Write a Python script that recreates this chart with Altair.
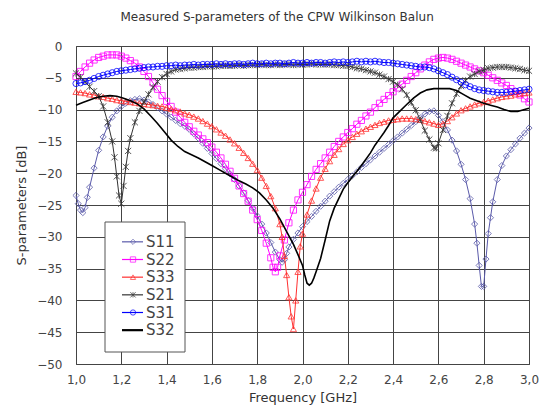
import altair as alt
import pandas as pd

# ---------------- data ----------------
s11_f = [1.00,1.01,1.02,1.03,1.04,1.05,1.06,1.08,1.10,1.12,1.14,1.16,1.18,1.20,1.22,1.24,1.26,1.28,1.30,1.32,1.34,1.36,1.38,1.40,1.42,1.44,1.46,1.48,1.50,1.52,1.54,1.56,1.58,1.60,1.62,1.64,1.66,1.68,1.70,1.72,1.74,1.76,1.78,1.80,1.82,1.84,1.86,1.88,1.90,1.91,1.92,1.93,1.94,1.96,1.98,2.00,2.02,2.04,2.06,2.08,2.10,2.12,2.14,2.16,2.18,2.20,2.22,2.24,2.26,2.28,2.30,2.32,2.34,2.36,2.38,2.40,2.42,2.44,2.46,2.48,2.50,2.52,2.54,2.56,2.58,2.60,2.62,2.64,2.66,2.68,2.70,2.72,2.74,2.76,2.77,2.78,2.79,2.80,2.81,2.82,2.83,2.84,2.86,2.88,2.90,2.92,2.94,2.96,2.98,3.00]
s11_db = [-23.5,-24.8,-25.8,-26.2,-25.4,-23.8,-22.2,-19.2,-16.4,-14.3,-12.6,-11.2,-10.2,-9.5,-9.0,-8.6,-8.4,-8.3,-8.5,-8.8,-9.2,-9.7,-10.2,-10.7,-11.2,-11.7,-12.2,-12.6,-13.1,-13.8,-14.5,-15.3,-16.1,-16.9,-17.7,-18.5,-19.3,-20.1,-21.0,-22.0,-23.1,-24.3,-25.5,-26.7,-28.0,-29.4,-30.9,-32.4,-33.6,-34.0,-33.6,-32.6,-31.6,-30.4,-29.4,-28.4,-27.6,-26.8,-26.0,-25.2,-24.4,-23.6,-22.9,-22.2,-21.6,-21.0,-20.4,-19.8,-19.1,-18.5,-17.9,-17.3,-16.7,-16.1,-15.5,-14.9,-14.3,-13.7,-13.1,-12.5,-11.9,-11.3,-10.7,-10.3,-10.2,-10.9,-11.9,-13.2,-14.8,-16.5,-18.6,-21.0,-24.0,-28.0,-31.0,-34.5,-37.8,-37.8,-33.5,-29.5,-27.0,-24.5,-21.0,-18.8,-17.3,-16.3,-15.4,-14.5,-13.7,-12.9]

s22_f = [1.00,1.02,1.04,1.06,1.08,1.10,1.12,1.14,1.16,1.18,1.20,1.22,1.24,1.26,1.28,1.30,1.32,1.34,1.36,1.38,1.40,1.42,1.44,1.46,1.48,1.50,1.52,1.54,1.56,1.58,1.60,1.62,1.64,1.66,1.68,1.70,1.72,1.74,1.76,1.78,1.80,1.82,1.84,1.86,1.87,1.88,1.89,1.90,1.92,1.94,1.96,1.98,2.00,2.02,2.04,2.06,2.08,2.10,2.12,2.14,2.16,2.18,2.20,2.22,2.24,2.26,2.28,2.30,2.32,2.34,2.36,2.38,2.40,2.42,2.44,2.46,2.48,2.50,2.52,2.54,2.56,2.58,2.60,2.62,2.64,2.66,2.68,2.70,2.72,2.74,2.76,2.78,2.80,2.82,2.84,2.86,2.88,2.90,2.92,2.94,2.96,2.98,3.00]
s22_db = [-4.8,-4.0,-3.3,-2.7,-2.2,-1.8,-1.6,-1.4,-1.4,-1.4,-1.6,-1.9,-2.3,-2.7,-3.3,-4.0,-4.8,-5.8,-6.8,-7.8,-8.7,-9.5,-10.4,-11.2,-12.0,-12.7,-13.4,-14.0,-14.6,-15.2,-15.9,-16.7,-17.6,-18.6,-19.7,-20.8,-22.0,-23.2,-24.4,-25.8,-27.3,-29.0,-31.0,-33.3,-34.8,-35.5,-34.8,-33.0,-30.5,-27.8,-25.8,-24.2,-23.0,-21.8,-20.5,-19.4,-18.5,-17.6,-16.7,-15.8,-15.0,-14.3,-13.6,-13.0,-12.3,-11.7,-11.0,-10.4,-9.7,-9.0,-8.4,-7.8,-7.2,-6.6,-6.0,-5.4,-4.8,-4.2,-3.6,-3.0,-2.5,-2.1,-1.9,-1.8,-1.9,-2.1,-2.4,-2.7,-3.0,-3.3,-3.6,-3.9,-4.2,-4.6,-5.0,-5.4,-5.8,-6.2,-6.7,-7.2,-7.7,-8.3,-8.8]

s33_f = [1.00,1.02,1.04,1.06,1.08,1.10,1.12,1.14,1.16,1.18,1.20,1.22,1.24,1.26,1.28,1.30,1.32,1.34,1.36,1.38,1.40,1.42,1.44,1.46,1.48,1.50,1.52,1.54,1.56,1.58,1.60,1.62,1.64,1.66,1.68,1.70,1.72,1.74,1.76,1.78,1.80,1.82,1.84,1.86,1.88,1.90,1.91,1.92,1.93,1.94,1.95,1.96,1.97,1.98,1.99,2.00,2.02,2.04,2.06,2.08,2.10,2.12,2.14,2.16,2.18,2.20,2.22,2.24,2.26,2.28,2.30,2.32,2.34,2.36,2.38,2.40,2.42,2.44,2.46,2.48,2.50,2.52,2.54,2.56,2.58,2.60,2.62,2.64,2.66,2.68,2.70,2.72,2.74,2.76,2.78,2.80,2.82,2.84,2.86,2.88,2.90,2.92,2.94,2.96,2.98,3.00]
s33_db = [-7.2,-7.3,-7.4,-7.6,-7.7,-7.9,-8.0,-8.2,-8.3,-8.5,-8.6,-8.7,-8.8,-8.9,-9.0,-9.1,-9.2,-9.3,-9.4,-9.5,-9.7,-9.9,-10.1,-10.3,-10.6,-10.8,-11.1,-11.4,-11.8,-12.2,-12.6,-13.1,-13.6,-14.1,-14.7,-15.3,-16.0,-16.8,-17.6,-18.5,-19.5,-20.7,-22.0,-23.6,-25.5,-28.0,-30.0,-33.0,-36.0,-39.5,-42.5,-44.5,-40.0,-35.5,-31.5,-29.5,-26.5,-24.3,-22.4,-20.7,-19.3,-18.1,-17.1,-16.2,-15.4,-14.8,-14.3,-13.8,-13.4,-13.0,-12.7,-12.4,-12.1,-11.9,-11.7,-11.6,-11.5,-11.4,-11.4,-11.4,-11.5,-11.6,-11.8,-12.0,-12.2,-12.4,-12.2,-11.8,-11.2,-10.6,-10.1,-9.8,-9.5,-9.2,-9.0,-8.8,-8.6,-8.4,-8.2,-8.0,-7.9,-7.8,-7.6,-7.5,-7.4,-7.3]

s21_f = [1.00,1.02,1.04,1.06,1.08,1.10,1.12,1.14,1.16,1.17,1.18,1.19,1.20,1.21,1.22,1.23,1.24,1.26,1.28,1.30,1.32,1.34,1.36,1.38,1.40,1.42,1.44,1.46,1.48,1.50,1.52,1.54,1.56,1.58,1.60,1.62,1.64,1.66,1.68,1.70,1.72,1.74,1.76,1.78,1.80,1.82,1.84,1.86,1.88,1.90,1.92,1.94,1.96,1.98,2.00,2.02,2.04,2.06,2.08,2.10,2.12,2.14,2.16,2.18,2.20,2.22,2.24,2.26,2.28,2.30,2.32,2.34,2.36,2.38,2.40,2.42,2.44,2.46,2.48,2.50,2.52,2.54,2.56,2.58,2.59,2.60,2.62,2.64,2.66,2.68,2.70,2.72,2.74,2.76,2.78,2.80,2.82,2.84,2.86,2.88,2.90,2.92,2.94,2.96,2.98,3.00]
s21_db = [-4.3,-4.9,-5.6,-6.4,-7.1,-7.9,-9.5,-12.0,-15.0,-17.5,-20.5,-23.5,-24.8,-22.0,-19.0,-16.5,-14.5,-12.0,-10.2,-8.8,-7.6,-6.5,-5.6,-4.9,-4.4,-4.0,-3.7,-3.6,-3.5,-3.4,-3.4,-3.3,-3.3,-3.2,-3.2,-3.2,-3.1,-3.1,-3.1,-3.1,-3.0,-3.1,-3.0,-3.0,-3.0,-2.9,-3.0,-3.0,-2.9,-3.0,-2.9,-2.9,-3.0,-2.9,-2.9,-2.9,-2.8,-2.9,-2.9,-2.9,-2.9,-3.0,-3.0,-3.1,-3.1,-3.3,-3.5,-3.6,-3.8,-4.0,-4.2,-4.5,-4.8,-5.2,-5.6,-6.1,-6.8,-7.7,-8.9,-10.1,-11.6,-13.3,-14.7,-16.0,-16.1,-15.3,-13.2,-11.0,-9.0,-7.5,-6.3,-5.4,-4.8,-4.4,-4.0,-3.8,-3.5,-3.4,-3.3,-3.3,-3.3,-3.4,-3.5,-3.6,-3.8,-3.9]

s31_f = [1.00,1.02,1.04,1.06,1.08,1.10,1.12,1.14,1.16,1.18,1.20,1.22,1.24,1.26,1.28,1.30,1.32,1.34,1.36,1.38,1.40,1.42,1.44,1.46,1.48,1.50,1.52,1.54,1.56,1.58,1.60,1.62,1.64,1.66,1.68,1.70,1.72,1.74,1.76,1.78,1.80,1.82,1.84,1.86,1.88,1.90,1.92,1.94,1.96,1.98,2.00,2.02,2.04,2.06,2.08,2.10,2.12,2.14,2.16,2.18,2.20,2.22,2.24,2.26,2.28,2.30,2.32,2.34,2.36,2.38,2.40,2.42,2.44,2.46,2.48,2.50,2.52,2.54,2.56,2.58,2.60,2.62,2.64,2.66,2.68,2.70,2.72,2.74,2.76,2.78,2.80,2.82,2.84,2.86,2.88,2.90,2.92,2.94,2.96,2.98,3.00]
s31_db = [-5.9,-5.8,-5.6,-5.4,-5.1,-4.8,-4.6,-4.4,-4.2,-4.0,-3.9,-3.8,-3.7,-3.6,-3.5,-3.4,-3.3,-3.3,-3.2,-3.2,-3.1,-3.1,-3.0,-3.1,-3.0,-3.0,-2.9,-3.0,-2.9,-2.9,-2.9,-2.8,-2.9,-2.8,-2.9,-2.8,-2.8,-2.9,-2.8,-2.7,-2.8,-2.8,-2.7,-2.8,-2.7,-2.7,-2.8,-2.7,-2.6,-2.7,-2.7,-2.6,-2.7,-2.6,-2.6,-2.7,-2.6,-2.5,-2.6,-2.5,-2.6,-2.5,-2.4,-2.5,-2.4,-2.5,-2.4,-2.5,-2.6,-2.6,-2.7,-2.8,-2.9,-3.0,-3.1,-3.2,-3.3,-3.3,-3.4,-3.6,-3.9,-4.2,-4.5,-4.9,-5.3,-5.7,-6.1,-6.4,-6.7,-6.9,-7.0,-7.1,-7.2,-7.3,-7.3,-7.3,-7.2,-7.1,-7.0,-6.9,-6.8]

s32_f = [1.00,1.03,1.06,1.09,1.12,1.15,1.18,1.21,1.24,1.27,1.30,1.33,1.36,1.39,1.42,1.45,1.48,1.51,1.54,1.57,1.60,1.63,1.66,1.69,1.72,1.75,1.78,1.81,1.84,1.87,1.90,1.93,1.96,1.98,2.00,2.01,2.02,2.03,2.04,2.05,2.06,2.08,2.10,2.12,2.14,2.16,2.18,2.20,2.22,2.24,2.26,2.28,2.30,2.32,2.34,2.36,2.38,2.40,2.42,2.46,2.49,2.52,2.55,2.58,2.62,2.65,2.68,2.71,2.74,2.77,2.80,2.83,2.86,2.89,2.92,2.95,2.98,3.00]
s32_db = [-9.3,-8.9,-8.5,-8.1,-7.9,-7.8,-7.9,-8.2,-8.6,-9.1,-9.9,-11.0,-12.2,-13.5,-14.8,-15.8,-16.6,-17.1,-17.6,-18.2,-18.8,-19.4,-20.0,-20.6,-21.2,-21.7,-22.3,-23.1,-24.2,-25.5,-27.2,-29.2,-31.2,-32.8,-34.5,-36.0,-37.3,-37.6,-37.3,-36.5,-35.5,-33.4,-30.5,-27.5,-25.5,-24.0,-22.5,-21.5,-20.6,-19.7,-18.8,-17.8,-16.8,-15.6,-14.6,-13.6,-12.5,-11.3,-10.6,-9.2,-8.2,-7.4,-6.9,-6.7,-6.7,-6.7,-7.0,-7.6,-8.2,-8.6,-9.0,-9.3,-9.6,-10.0,-10.3,-10.3,-10.0,-9.8]

names = ["S11", "S22", "S33", "S21", "S31", "S32"]
colors = ["#5a5aaa", "#ff00ff", "#ff3030", "#333333", "#0000ff", "#000000"]
x_path = "M-1,-1L1,1M-1,1L1,-1M0,-1L0,1"
shapes = ["diamond", "square", "triangle-up", x_path, "circle", "circle"]

series = {
    "S11": (s11_f, s11_db), "S22": (s22_f, s22_db), "S33": (s33_f, s33_db),
    "S21": (s21_f, s21_db), "S31": (s31_f, s31_db), "S32": (s32_f, s32_db),
}
rows = []
for n in names:
    f, d = series[n]
    for a, b in zip(f, d):
        rows.append({"series": n, "f": a, "db": b})
df = pd.DataFrame(rows)

FONT = "DejaVu Sans"

x_enc = alt.X("f:Q", scale=alt.Scale(domain=[1.0, 3.0], nice=False, zero=False, padding=0),
              axis=alt.Axis(values=[round(1.0 + 0.2 * i, 1) for i in range(11)], format=".1f",
                            labelExpr="replace(datum.label, '.', ',')",
                            title="Frequency [GHz]", grid=True, ticks=False,
                            labelFlush=False, labelPadding=10, titlePadding=6))
y_enc = alt.Y("db:Q", scale=alt.Scale(domain=[-50, 0], nice=False, padding=0),
              axis=alt.Axis(values=list(range(-50, 1, 5)), title="S-parameters [dB]",
                            grid=True, ticks=False, labelFlush=False,
                            labelPadding=14, titlePadding=8))

layers = []
for n, c, s in zip(names, colors, shapes):
    base = alt.Chart(df).transform_filter(alt.datum.series == n)
    lw = 1.6 if n == "S32" else 1
    layers.append(base.mark_line(color=c, strokeWidth=lw).encode(x=x_enc, y=y_enc))
    if n != "S32":
        layers.append(base.mark_point(shape=s, color=c, filled=False, size=38,
                                      strokeWidth=1, opacity=0.8).encode(x=x_enc, y=y_enc))
main = alt.layer(*layers)

# ---------------- legend ----------------
leg_df = pd.DataFrame({"series": names})
leg_y = alt.Y("series:N", scale=alt.Scale(domain=names, range=[187, 293]), axis=None)
leg_color = alt.Color("series:N", scale=alt.Scale(domain=names, range=colors), legend=None)
leg_shape = alt.Shape("series:N", scale=alt.Scale(domain=names, range=shapes), legend=None)

box = alt.Chart(pd.DataFrame({"a": [0]})).mark_rect(
    fill="white", stroke="#555555", strokeWidth=1).encode(
    x=alt.value(29), x2=alt.value(109), y=alt.value(176), y2=alt.value(306))
leg_lines = alt.Chart(leg_df).mark_rule().encode(
    x=alt.value(46), x2=alt.value(67), y=leg_y, color=leg_color,
    strokeWidth=alt.condition(alt.datum.series == "S32", alt.value(2.2), alt.value(1.2)))
leg_pts = alt.Chart(leg_df).transform_filter(alt.datum.series != "S32").mark_point(
    filled=False, size=28, strokeWidth=1).encode(
    x=alt.value(57), y=leg_y, color=leg_color, shape=leg_shape)
leg_text = alt.Chart(leg_df).mark_text(align="left", baseline="middle", font=FONT,
                                       fontSize=15, color="#444444").encode(
    x=alt.value(70), y=leg_y, text="series:N")
legend = alt.layer(box, leg_lines, leg_pts, leg_text)

chart = alt.layer(main, legend).resolve_scale(
    y="independent", color="independent", shape="independent").properties(
    width=453, height=318,
    title=alt.Title("Measured S-parameters of the CPW Wilkinson Balun", frame="bounds",
                    anchor="middle", font=FONT, fontSize=12, fontWeight="normal",
                    color="#333333", offset=16),
    padding={"left": 68, "top": 38, "right": 10, "bottom": 44},
    autosize=alt.AutoSizeParams(type="none"),
).configure_view(stroke="#444444", strokeWidth=1).configure_axis(
    gridColor="#444444", gridWidth=1, gridOpacity=1, domain=False,
    labelFont=FONT, labelFontSize=12, labelColor="#444444",
    titleFont=FONT, titleFontSize=13, titleFontWeight="normal", titleColor="#333333",
)

chart.save("out.html", embed_options={"renderer": "svg", "actions": False})
